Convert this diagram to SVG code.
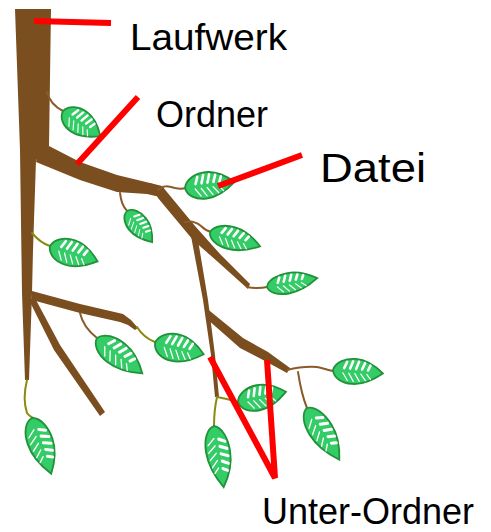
<svg xmlns="http://www.w3.org/2000/svg" width="491" height="532" viewBox="0 0 491 532">
  <style>
    .wood { fill: #7a4e1e; }
    .twig { fill: none; stroke: #8b5a2b; stroke-width: 2; stroke-linecap: round; stroke-linejoin: round; }
    .sprout { fill: none; stroke: #8c8a10; stroke-width: 2; stroke-linecap: round; stroke-linejoin: round; }
    .blade { fill: #33cc66; stroke: #22913a; stroke-width: 1.8; vector-effect: non-scaling-stroke; }
    .vein-a { stroke: #ffffff; stroke-width: 2.6; stroke-linecap: round; }
    .vein-b { stroke: #ffffff; stroke-width: 1.2; stroke-linecap: round; }
    .pointer { fill: none; stroke: #ff0000; stroke-width: 6; stroke-linejoin: miter; }
    .label { font-family: "Liberation Sans", Arial, sans-serif; fill: #000000; }
  </style>
  <defs>
    <!-- one leaf: stem end at the origin, tip at (50,0) -->
    <g id="leaf">
      <path class="blade" d="M0,0 C2,-8 12,-12 22,-12 C34,-12 44,-5 50,0 C42,6 32,12 20,12 C9,12 1,7 0,0 Z"/>
      <g class="vein-a">
        <line x1="11" y1="-2.5" x2="13.5" y2="-8.5"/>
        <line x1="17" y1="-2.5" x2="19.5" y2="-9.5"/>
        <line x1="23" y1="-2.5" x2="25.5" y2="-9.5"/>
        <line x1="29" y1="-2.5" x2="31.5" y2="-8.5"/>
        <line x1="35" y1="-2" x2="37" y2="-6.5"/>
      </g>
      <g class="vein-b">
        <line x1="10" y1="2" x2="15" y2="9"/>
        <line x1="16" y1="2" x2="21" y2="9.5"/>
        <line x1="22" y1="2" x2="27" y2="9"/>
        <line x1="28" y1="2" x2="33" y2="8"/>
        <line x1="34" y1="2" x2="38" y2="6.5"/>
      </g>
    </g>
  </defs>

  <!-- trunk and branches -->
  <g id="tree">
    <path class="wood" d="M15,9 L51,9 L49,146 L36,160 L33,250 L32,293 L29,380 L25,380 L22,293 L20,150 Z"/>
    <path class="wood" d="M38,150 L49,146 L80,162 L117,175 L150,183 L162,187 L160,197 L147,194 L117,192 L80,180 L36,162 Z"/>
    <path class="wood" d="M150,183 L162,186 L195,226 L220,254 L250,284 L248,289 L218,262 L193,240 L158,198 Z"/>
    <path class="wood" d="M191,236 L203,300 L211,355 L215,397 L219,397 L215,355 L208,300 L197,234 Z"/>
    <path class="wood" d="M205,307 L243,338 L268,352 L290,368 L287,373 L265,361 L240,348 L207,319 Z"/>
    <path class="wood" d="M32,291 L80,304 L123,314 L131,320 L138,328 L135,330 L128,325 L120,322 L80,313 L32,300 Z"/>
    <path class="wood" d="M28,298 L36,300 L60,345 L105,412 L100,416 L54,350 Z"/>
  </g>

  <!-- leaf stems -->
  <g id="stems">
    <path class="twig" d="M47,92 C49,100 53,106 63,111"/>
    <path class="twig" d="M158,190 C163,185 168,186 175,188 C179,189 182,189 186,188"/>
    <path class="twig" d="M120,193 C121,200 122,206 128,212"/>
    <path class="twig" d="M185,222 C190,221 196,222 201,226 C204,229 207,231 211,232"/>
    <path class="twig" d="M247,287 C252,288 258,289 267,287"/>
    <path class="twig" d="M80,313 C82,322 88,331 97,338"/>
    <path class="twig" d="M287,370 C295,368 303,366 317,367 C323,368 327,370 333,371"/>
    <path class="twig" d="M298,372 C300,385 302,396 307,408"/>
    <path class="sprout" d="M32,233 C38,240 43,244 50,246"/>
    <path class="sprout" d="M137,327 C142,335 147,339 155,342"/>
    <path class="sprout" d="M27,380 C24,392 24,404 27,413 C29,416 31,417 33,418"/>
    <path class="sprout" d="M217,397 C215,406 214,415 214,426"/>
    <path class="sprout" d="M217,397 C224,398 230,400 238,402"/>
  </g>

  <!-- leaves -->
  <g id="leaves">
    <use href="#leaf" transform="translate(63,111) rotate(34) scale(0.9,1.05)"/>
    <use href="#leaf" transform="translate(185,188) rotate(-7) scale(1,1.1)"/>
    <use href="#leaf" transform="translate(127,211) rotate(51) scale(0.8,0.85)"/>
    <use href="#leaf" transform="translate(210,232) rotate(16) scale(1.04,0.95)"/>
    <use href="#leaf" transform="translate(267,287) rotate(-10) scale(1.02,0.85)"/>
    <use href="#leaf" transform="translate(50,246) rotate(18) scale(1,1.1)"/>
    <use href="#leaf" transform="translate(97,338) rotate(38) scale(1.15,1.05)"/>
    <use href="#leaf" transform="translate(155,343) rotate(13) scale(1,1.15)"/>
    <use href="#leaf" transform="translate(32,418) rotate(71) scale(1.18,1.05)"/>
    <use href="#leaf" transform="translate(214,426) rotate(81) scale(1.24,1)"/>
    <use href="#leaf" transform="translate(238,402) rotate(-12) scale(0.98,1.05)"/>
    <use href="#leaf" transform="translate(333,370) rotate(4) scale(1,1.05)"/>
    <use href="#leaf" transform="translate(307,408) rotate(58) scale(1.22,1)"/>
  </g>

  <!-- pointer lines -->
  <g id="pointers">
    <line class="pointer" x1="34" y1="21" x2="111" y2="23"/>
    <line class="pointer" x1="138" y1="97" x2="77" y2="164"/>
    <line class="pointer" x1="302" y1="155" x2="218" y2="186"/>
    <polyline class="pointer" points="210,357 275,478 267,360"/>
  </g>

  <!-- labels -->
  <g id="label-laufwerk"><text class="label" x="130" y="50" font-size="36" textLength="157" lengthAdjust="spacingAndGlyphs">Laufwerk</text></g>
  <g id="label-ordner"><text class="label" x="156" y="127" font-size="36">Ordner</text></g>
  <g id="label-datei"><text class="label" x="320" y="182" font-size="41" textLength="106" lengthAdjust="spacingAndGlyphs">Datei</text></g>
  <g id="label-unter-ordner"><text class="label" x="262" y="524" font-size="36">Unter-Ordner</text></g>
</svg>
